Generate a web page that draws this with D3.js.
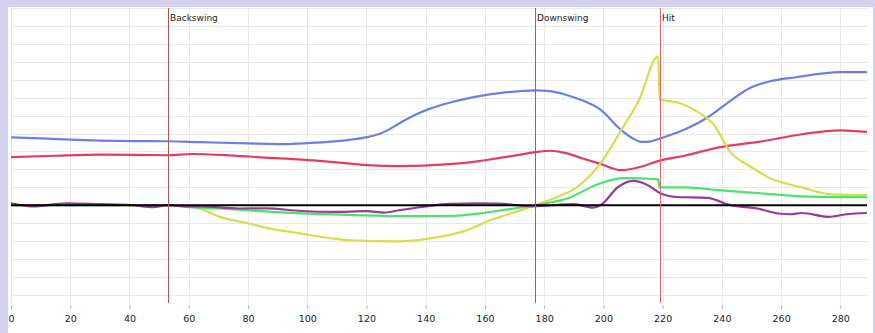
<!DOCTYPE html>
<html>
<head>
<meta charset="utf-8">
<script src="https://cdn.jsdelivr.net/npm/d3@7"></script>
<style>
  html, body { margin: 0; padding: 0; background: #fff; }
  svg { display: block; }
</style>
</head>
<body>
<svg id="chart" width="875" height="333"></svg>
<script>
// Swing sensor traces: [frame, value] samples for each channel
const blueSeries = [[0,37.9],[10,37.3],[20,36.6],[30,36.1],[42,35.8],[53,35.7],[64,35.2],[80,34.5],[92,34.1],[100,34.6],[109,35.6],[116,36.9],[121,38.3],[125,40.2],[128,42.6],[131,45.6],[136,50],[141,53.6],[148,57.2],[155,59.9],[165,62.5],[172,63.7],[177,64.1],[182,63.6],[187,61.8],[193,58.4],[199,53.3],[206,42],[210,37.2],[213,35.3],[216,35.6],[219,37.2],[228,42.6],[235,48.8],[243,58.4],[249,65],[256,69],[265,71.4],[280,74.2],[289,74.2]];
const redSeries = [[0,26.8],[15,27.6],[30,28.2],[53,27.9],[61,28.6],[75,27.7],[86,26.6],[98,25.5],[109,24.1],[120,22.4],[131,21.8],[148,22.9],[158,24.6],[165,26.4],[172,28.2],[177,29.6],[182,30.4],[187,29.2],[193,26.1],[199,23.1],[206,19.6],[212,21.2],[219,24.9],[228,27.9],[239,32.3],[253,35.5],[267,39.6],[280,41.8],[289,40.9]];
const yellowSeries = [[0,0],[20,0.4],[40,0],[53,0],[60,-0.5],[64,-2],[70,-6.2],[80,-10],[88,-13.2],[98,-15.8],[108,-18.4],[115,-19.6],[131,-20.1],[141,-18.6],[148,-16.5],[153,-14.4],[157,-11.8],[161,-8.8],[165,-6.6],[171,-3.4],[177,0],[185,5],[191,10],[199,23.4],[206,41.8],[212,58.6],[218.5,83.1],[219,59.1],[226,56.9],[232,51.9],[237,45.5],[243,29.5],[250,21.2],[256,15.3],[267,10],[277,6.1],[289,5.6]];
const greenSeries = [[0,0],[40,0],[53,0],[60,-1],[70,-1.7],[80,-2.8],[98,-4.5],[120,-5.6],[131,-6.1],[148,-6],[158,-4.6],[165,-2.9],[177,0],[188,3.9],[199,12.3],[207,15.1],[218.5,14.5],[219,10],[228,10],[239,8.4],[253,6.7],[267,5],[289,4.5]];
const purpleSeries = [[0,1.1],[7,-0.6],[19,1.1],[30,0.6],[41,0],[48,-1.1],[53,0],[60,-0.6],[64,-0.6],[77,-1.8],[86,-1.7],[98,-3.2],[109,-3.7],[120,-3.3],[126,-4.1],[131,-2.8],[138,-1.1],[148,0.8],[158,1.1],[165,0.9],[176,-0.6],[190,0.6],[196.5,-1.3],[199,0],[205,10.2],[210,13.6],[215,11.2],[219,6.9],[225,4.6],[235,4.1],[243,0],[252,-1.8],[259,-4.6],[263,-5],[267,-4.3],[276,-6.5],[282,-5],[289,-4.3]];

const seriesColors = ["#6d7fe6", "#e33d66", "#d9dc50", "#48e46c", "#993b99"];

// Swing phase markers
const eventNames = ["Backswing", "Downswing", "Hit"];
const eventFrames = [53, 177, 219];
const eventColors = ["#a65a52", "#b45a5a", "#d46a6a"];

const xTicks = d3.range(0, 281, 20);
const yGridValues = d3.range(-50, 111, 10);

const svg = d3.select("#chart");
const W = 875, H = 333;

// frame around the plot
svg.append("rect").attr("x", 0).attr("y", 0).attr("width", W).attr("height", H).attr("fill", "#d4d2ee");
svg.append("rect").attr("x", 8).attr("y", 7).attr("width", W - 10).attr("height", H - 7).attr("fill", "#ffffff");

const x = d3.scaleLinear().domain([0, 289]).range([11, 867]);
const y = d3.scaleLinear().domain([-54.5, 110]).range([303, 8]);

// grid
const grid = svg.append("g");
grid.selectAll("line.h").data(yGridValues).join("line")
  .attr("x1", x(0)).attr("x2", x(289))
  .attr("y1", d => Math.round(y(d)) + 0.5).attr("y2", d => Math.round(y(d)) + 0.5)
  .attr("stroke", "#e8e8e8").attr("stroke-width", 1);
grid.selectAll("line.v").data(xTicks).join("line")
  .attr("x1", d => Math.round(x(d)) + 0.5).attr("x2", d => Math.round(x(d)) + 0.5)
  .attr("y1", y(110)).attr("y2", y(-54.5))
  .attr("stroke", "#e8e8e8").attr("stroke-width", 1);

// x axis
const xAxis = d3.axisBottom(x).tickValues(xTicks).tickSize(4).tickPadding(6).tickFormat(d3.format("d"));
const ax = svg.append("g").attr("transform", "translate(0,305)").call(xAxis);
ax.select(".domain").remove();
ax.selectAll(".tick line").attr("stroke", "#a9b9cc");
ax.selectAll(".tick text").attr("fill", "#222").attr("font-family", "DejaVu Sans, Verdana, sans-serif").attr("font-size", "9.5px");

// series
const line = d3.line().x(d => x(d[0])).y(d => y(d[1])).curve(d3.curveMonotoneX);
const allSeries = [blueSeries, redSeries, yellowSeries, greenSeries, purpleSeries];
svg.append("g").selectAll("path").data(allSeries).join("path")
  .attr("d", line)
  .attr("fill", "none")
  .attr("stroke", (d, i) => seriesColors[i])
  .attr("stroke-width", 2.2)
  .attr("stroke-linejoin", "round");

// zero line
svg.append("line")
  .attr("x1", x(0)).attr("x2", x(289))
  .attr("y1", y(0)).attr("y2", y(0))
  .attr("stroke", "#000").attr("stroke-width", 2);

// event markers
const ev = svg.append("g").selectAll("g").data(eventFrames).join("g");
ev.append("line")
  .attr("x1", d => Math.round(x(d)) + 0.5).attr("x2", d => Math.round(x(d)) + 0.5)
  .attr("y1", y(110)).attr("y2", y(-54.5))
  .attr("stroke", (d, i) => eventColors[i]).attr("stroke-width", 1);
ev.append("text")
  .attr("x", d => Math.round(x(d)) + 2)
  .attr("y", 21)
  .attr("fill", "#222")
  .attr("font-family", "DejaVu Sans, Verdana, sans-serif")
  .attr("font-size", "9px")
  .text((d, i) => eventNames[i]);
</script>
</body>
</html>
